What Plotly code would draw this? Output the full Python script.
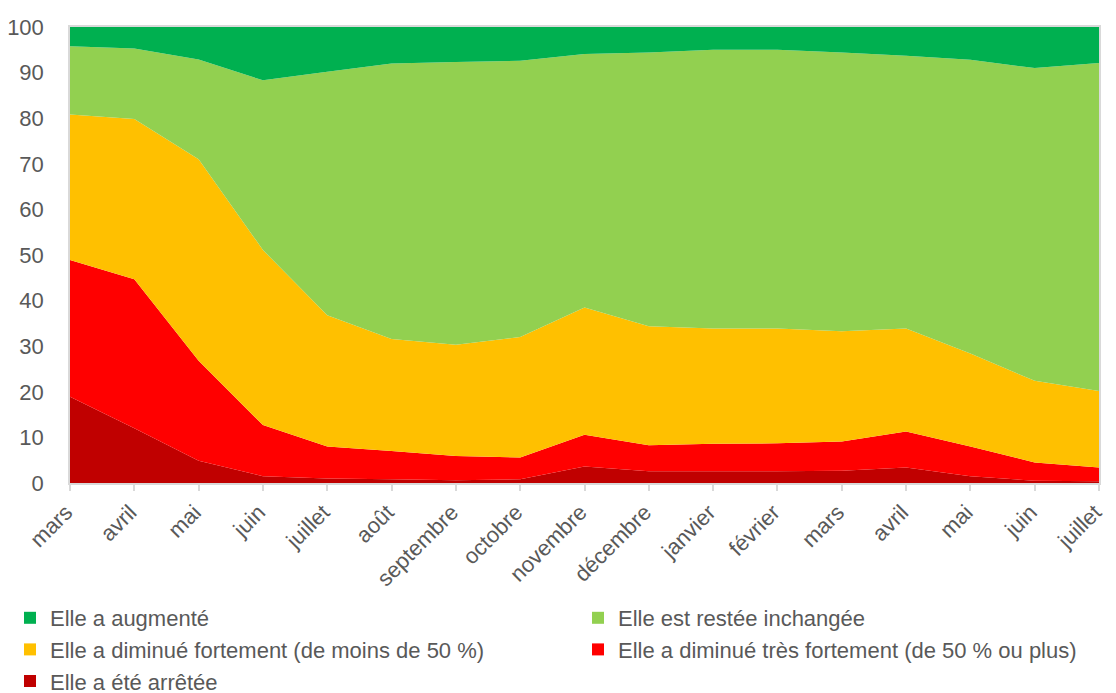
import plotly.graph_objects as go

months = ["mars", "avril", "mai", "juin", "juillet", "août", "septembre", "octobre",
          "novembre", "décembre", "janvier", "février", "mars", "avril", "mai", "juin", "juillet"]

arretee = [18.9, 12.0, 4.9, 1.5, 1.0, 0.8, 0.6, 0.8, 3.6, 2.6, 2.6, 2.6, 2.7, 3.4, 1.5, 0.5, 0.4]
tres_fortement = [30.0, 32.7, 21.9, 11.2, 7.0, 6.2, 5.3, 4.8, 7.0, 5.7, 6.0, 6.1, 6.4, 7.9, 6.5, 4.0, 3.0]
fortement = [31.9, 35.1, 44.2, 38.4, 28.8, 24.6, 24.4, 26.4, 27.9, 26.1, 25.3, 25.2, 24.2, 22.6, 20.4, 17.9, 16.8]
inchangee = [15.0, 15.5, 21.9, 37.2, 53.4, 60.4, 62.0, 60.6, 55.6, 60.0, 61.1, 61.1, 61.1, 59.8, 64.4, 68.6, 71.9]
augmente = [4.2, 4.7, 7.1, 11.7, 9.8, 8.0, 7.7, 7.4, 5.9, 5.6, 5.0, 5.0, 5.6, 6.3, 7.2, 9.0, 7.9]

series_names = ["Elle a été arrêtée",
                "Elle a diminué très fortement (de 50 % ou plus)",
                "Elle a diminué fortement (de moins de 50 %)",
                "Elle est restée inchangée",
                "Elle a augmenté"]
series_values = [arretee, tres_fortement, fortement, inchangee, augmente]
colors = ["#C00000", "#FF0000", "#FFC000", "#92D050", "#00B050"]

x = list(range(len(months)))

fig = go.Figure()
for name, vals, col in zip(series_names, series_values, colors):
    fig.add_trace(go.Scatter(
        x=x, y=vals, name=name, stackgroup="one", mode="none",
        fillcolor=col, showlegend=False, hoverinfo="name+y"))

# legend entries: left column / right column
left_col = [4, 2, 0]
right_col = [3, 1]
for idxs, lg in ((left_col, "legend"), (right_col, "legend2")):
    for i in idxs:
        fig.add_trace(go.Scatter(
            x=[None], y=[None], mode="markers", name=series_names[i],
            marker=dict(symbol="square", size=13, color=colors[i]),
            showlegend=True, legend=lg))

grey = "#595959"
legend_common = dict(
    orientation="h", xref="container", yref="container",
    xanchor="left", yanchor="top", traceorder="normal",
    entrywidth=520, entrywidthmode="pixels",
    font=dict(size=22, color=grey), itemsizing="constant",
    tracegroupgap=0, bgcolor="rgba(0,0,0,0)",
)
fig.update_layout(
    width=1116, height=693,
    margin=dict(l=70, r=17, t=27, b=210, autoexpand=False),
    paper_bgcolor="white", plot_bgcolor="white",
    font=dict(family="Liberation Sans, Arial, sans-serif", color=grey),
    showlegend=True,
    legend=dict(x=10 / 1116, y=1 - 597 / 693, **legend_common),
    legend2=dict(x=578 / 1116, y=1 - 597 / 693, **legend_common),
    xaxis=dict(
        range=[0, len(months) - 1], automargin=False,
        tickmode="array", tickvals=x, ticktext=months,
        tickangle=-45, tickfont=dict(size=22, color=grey),
        ticklabelshift=-4,
        showgrid=False, zeroline=False,
        showline=True, linecolor="#D9D9D9", linewidth=1.5, mirror=True,
        ticks="outside", ticklen=6, tickcolor="#D9D9D9", tickwidth=1.5,
    ),
    yaxis=dict(
        range=[0, 100], tickmode="linear", dtick=10, tick0=0, automargin=False,
        tickfont=dict(size=22, color=grey),
        showgrid=False, zeroline=False,
        showline=True, linecolor="#D9D9D9", linewidth=1.5, mirror=True,
        ticks="", ticklabelstandoff=20,
    ),
)

fig.write_html("out.html")
